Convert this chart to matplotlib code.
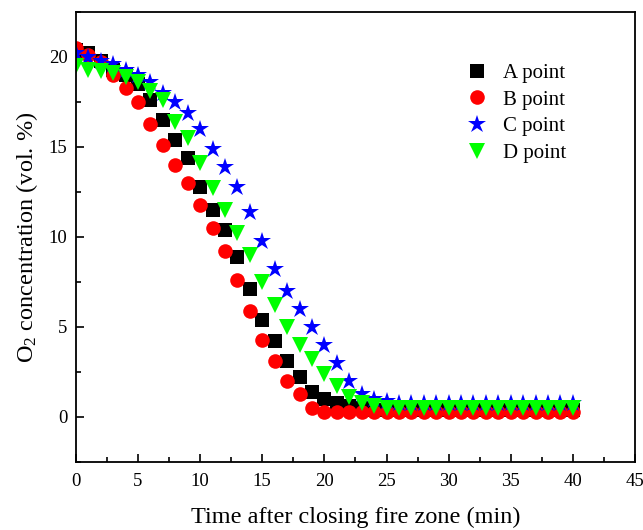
import numpy as np
import matplotlib
matplotlib.use("Agg")
import matplotlib.pyplot as plt
from matplotlib.ticker import MultipleLocator

plt.rcParams["font.family"] = ["Liberation Serif", "DejaVu Serif"]
plt.rcParams["mathtext.fontset"] = "custom"
plt.rcParams["mathtext.rm"] = "Liberation Serif"
plt.rcParams["mathtext.it"] = "Liberation Serif:italic"

# time after closing (min), one reading per minute
t = np.arange(0, 41)

a_point = [20.4, 20.2, 19.8, 19.3, 19.0, 18.5, 17.6, 16.5, 15.4, 14.4,
           12.8, 11.5, 10.4, 8.9, 7.1, 5.4, 4.2, 3.1, 2.2, 1.4,
           1.0, 0.8, 0.6, 0.5] + [0.4] * 17
b_point = [20.5, 20.1, 19.7, 19.0, 18.3, 17.5, 16.3, 15.1, 14.0, 13.0,
           11.8, 10.5, 9.2, 7.6, 5.9, 4.3, 3.1, 2.0, 1.3, 0.5] + [0.3] * 21
c_point = [20.2, 20.0, 19.8, 19.6, 19.3, 19.0, 18.6, 18.0, 17.5, 16.9,
           16.0, 14.9, 13.9, 12.8, 11.4, 9.8, 8.2, 7.0, 6.0, 5.0,
           4.0, 3.0, 2.0, 1.3, 1.0, 0.9] + [0.8] * 15
d_point = [19.5, 19.3, 19.2, 19.1, 18.9, 18.6, 18.1, 17.6, 16.4, 15.5,
           14.1, 12.7, 11.5, 10.2, 9.0, 7.5, 6.2, 5.0, 4.0, 3.2,
           2.4, 1.7, 1.1, 0.8, 0.6] + [0.5] * 16

fig = plt.figure(figsize=(6.43, 5.30), dpi=100)
ax = fig.add_axes([0.118, 0.1283, 0.8696, 0.8491])

ax.plot(t, a_point, "s", color="black", ms=9.5, mew=0, label="A point")
ax.plot(t, b_point, "o", color="red", ms=10.5, mew=0, label="B point")
ax.plot(t, c_point, "*", color="blue", ms=13.5, mew=0, label="C point")
ax.plot(t, d_point, "v", color="#00ff00", ms=11, mew=0, label="D point")

ax.set_xlim(0, 45)
ax.set_ylim(-2.5, 22.5)
ax.xaxis.set_major_locator(MultipleLocator(5))
ax.xaxis.set_minor_locator(MultipleLocator(2.5))
ax.yaxis.set_major_locator(MultipleLocator(5))
ax.yaxis.set_minor_locator(MultipleLocator(2.5))
ax.tick_params(which="both", direction="in", labelsize=13.5, width=1.2)
ax.tick_params(which="major", length=6)
ax.tick_params(which="minor", length=3.5)
ax.tick_params(axis="x", pad=8)
ax.tick_params(axis="y", pad=6)
for s in ax.spines.values():
    s.set_linewidth(1.3)

ax.set_xlabel("Time after closing fire zone (min)", fontsize=17.5, labelpad=12)
ax.set_ylabel("O$_2$ concentration (vol. %)", fontsize=17.5, labelpad=6)

ax.legend(loc="upper left", bbox_to_anchor=(0.699, 0.886), frameon=False,
          fontsize=15, handlelength=1.0, handletextpad=0.75,
          labelspacing=0.34, borderpad=0, borderaxespad=0)

fig.savefig("out.png", dpi=100)
